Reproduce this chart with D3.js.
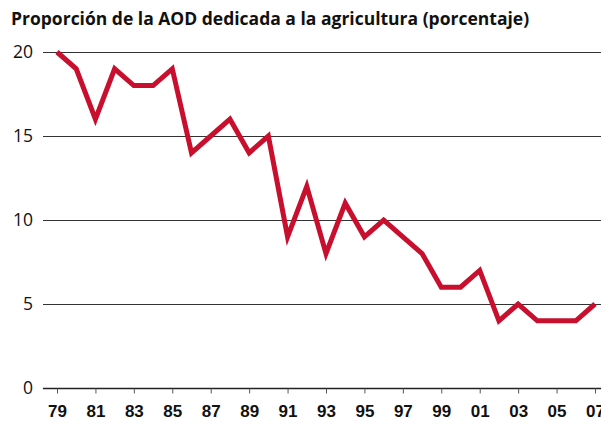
<!DOCTYPE html>
<html>
<head>
<meta charset="utf-8">
<script src="https://cdn.jsdelivr.net/npm/d3@7"></script>
<style>
  body { margin: 0; background: #fff; }
  svg { display: block; font-family: 'Open Sans', sans-serif; }
  .title { font-weight: bold; font-size: 17.5px; fill: #111; }
  .axis--y text { font-size: 17.5px; fill: #111; }
  .axis--x text { font-size: 17px; font-weight: bold; fill: #111; }
</style>
</head>
<body>
<svg id="chart"></svg>
<script>
const years = d3.range(1979, 2008);
const values = [20, 19, 16, 19, 18, 18, 19, 14, 15, 16, 14, 15, 9, 12, 8, 11, 9, 10, 9, 8, 6, 6, 7, 4, 5, 4, 4, 4, 5];
const yTicks = [0, 5, 10, 15, 20];
const xTicks = d3.range(1979, 2008, 2);

const fullWidth = 601;
const fullHeight = 425;
const margin = {top: 52, right: 6, bottom: 37, left: 57};
const gridLeft = 43;

const data = years.map((year, i) => ({year, value: values[i]}));

const xScale = d3.scaleLinear()
    .domain([1979, 2007])
    .range([margin.left, fullWidth - margin.right]);

const yScale = d3.scaleLinear()
    .domain([0, 20])
    .range([fullHeight - margin.bottom, margin.top]);

const svg = d3.select('#chart')
    .attr('width', fullWidth)
    .attr('height', fullHeight);

svg.append('text')
    .attr('class', 'title')
    .attr('x', 11)
    .attr('y', 25)
    .text('Proporción de la AOD dedicada a la agricultura (porcentaje)');

// gridlines + y labels
const gY = svg.append('g').attr('class', 'axis axis--y');

gY.selectAll('line').data(yTicks).enter().append('line')
    .attr('x1', gridLeft)
    .attr('x2', fullWidth)
    .attr('y1', d => Math.round(yScale(d)) + 0.5)
    .attr('y2', d => Math.round(yScale(d)) + 0.5)
    .attr('stroke', d => d === 0 ? '#222' : '#333')
    .attr('stroke-width', d => d === 0 ? 1.3 : 1);

gY.selectAll('text').data(yTicks).enter().append('text')
    .attr('x', 33)
    .attr('y', d => yScale(d))
    .attr('dy', '0.35em')
    .attr('text-anchor', 'end')
    .text(d => d);

// x axis ticks + labels
const xAxis = d3.axisBottom(xScale)
    .tickValues(xTicks)
    .tickSize(5)
    .tickPadding(11)
    .tickFormat(d => String(d).slice(-2));

const gX = svg.append('g')
    .attr('class', 'axis axis--x')
    .attr('transform', `translate(0, ${Math.round(yScale(0)) + 0.5})`)
    .call(xAxis);

gX.select('.domain').remove();
gX.selectAll('.tick line').attr('stroke', '#555');

const line = d3.line()
    .x(d => xScale(d.year))
    .y(d => yScale(d.value));

svg.append('path')
    .datum(data)
    .attr('fill', 'none')
    .attr('stroke', '#c8102e')
    .attr('stroke-width', 5)
    .attr('stroke-linejoin', 'miter')
    .attr('d', line);
</script>
</body>
</html>
